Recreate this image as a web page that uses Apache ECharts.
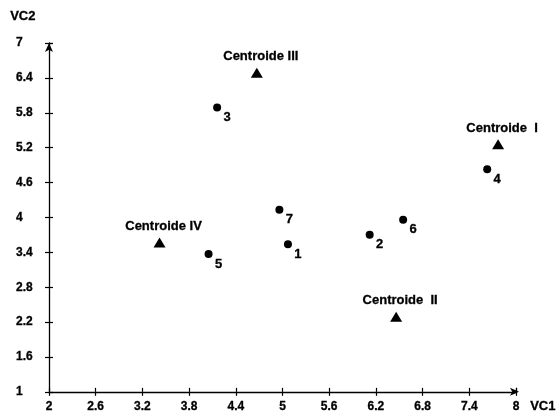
<!DOCTYPE html>
<html>
<head>
<meta charset="utf-8">
<script src="https://cdn.jsdelivr.net/npm/echarts@6/dist/echarts.min.js"></script>
<style>
html,body{margin:0;padding:0;background:#fff;}
#chart{width:558px;height:413px;}
</style>
</head>
<body>
<div id="chart"></div>
<script>
// ---- data ----
const xTickLabels = ['2','2.6','3.2','3.8','4.4','5','5.6','6.2','6.8','7.4','8'];
const yTickLabels = ['1','1.6','2.2','2.8','3.4','4','4.6','5.2','5.8','6.4','7'];
const pointNames = ['1','2','3','4','5','6','7'];
const pointX = [5.07, 6.12, 4.16, 7.63, 4.05, 6.55, 4.96];
const pointY = [3.54, 3.70, 5.89, 4.83, 3.37, 3.96, 4.13];
const centroidNames = ['Centroide  I','Centroide  II','Centroide III','Centroide IV'];
const centroidX = [7.77, 6.46, 4.67, 3.42];
const centroidY = [5.26, 2.29, 6.49, 3.57];
const xAxisName = 'VC1';
const yAxisName = 'VC2';

// ---- chart ----
const FONT = '"Liberation Sans", Arial, sans-serif';
const xMin = +xTickLabels[0], xMax = +xTickLabels[xTickLabels.length-1];
const xStep = +xTickLabels[1] - xMin;
const yMin = +yTickLabels[0], yMax = +yTickLabels[yTickLabels.length-1];
const yStep = +yTickLabels[1] - yMin;
const fmt = v => String(Math.round(v*10)/10);
const lbl = {fontFamily: FONT, fontWeight: 'bold', fontSize: 12, color: '#000',
             textBorderColor: '#000', textBorderWidth: 0.3};

const chart = echarts.init(document.getElementById('chart'), null, {renderer: 'canvas'});
chart.setOption({
  animation: false,
  backgroundColor: '#fff',
  grid: {left: 49, right: 42, top: 43, bottom: 21, containLabel: false},
  xAxis: [
    {type: 'value', min: xMin, max: xMax, interval: xStep, position: 'bottom',
     axisLine: {show: true, symbol: ['none','arrow'], symbolSize: [6, 9], symbolOffset: [0, 3],
                lineStyle: {color: '#000', width: 1.3}},
     axisTick: {show: true, length: 4, lineStyle: {color: '#000', width: 1.2}},
     splitLine: {show: false},
     axisLabel: Object.assign({margin: 9, formatter: fmt}, lbl)},
    {type: 'value', min: xMin, max: xMax, interval: xStep, position: 'bottom', offset: 0,
     axisLine: {show: false},
     axisTick: {show: true, inside: true, length: 4, lineStyle: {color: '#000', width: 1.2}},
     splitLine: {show: false}, axisLabel: {show: false}}
  ],
  yAxis: [
    {type: 'value', min: yMin, max: yMax, interval: yStep, position: 'left',
     axisLine: {show: true, symbol: ['none','arrow'], symbolSize: [6, 9], symbolOffset: [0, 0],
                lineStyle: {color: '#000', width: 1.3}},
     axisTick: {show: true, length: 4, lineStyle: {color: '#000', width: 1.2}},
     splitLine: {show: false},
     axisLabel: Object.assign({margin: 33, align: 'left', formatter: fmt}, lbl)},
    {type: 'value', min: yMin, max: yMax, interval: yStep, position: 'left', offset: 0,
     axisLine: {show: false},
     axisTick: {show: true, inside: true, length: 4, lineStyle: {color: '#000', width: 1.2}},
     splitLine: {show: false}, axisLabel: {show: false}}
  ],
  graphic: [
    {type: 'text', left: 10, top: 10, style: {text: yAxisName, font: 'bold 13px ' + FONT, fill: '#000', stroke: '#000', lineWidth: 0.3}},
    {type: 'text', left: 530, top: 400, style: {text: xAxisName, font: 'bold 13px ' + FONT, fill: '#000', stroke: '#000', lineWidth: 0.3}}
  ],
  series: [
    {type: 'scatter', xAxisIndex: 0, yAxisIndex: 0, symbol: 'circle', symbolSize: 8,
     itemStyle: {color: '#000', opacity: 1},
     data: pointNames.map((n, i) => ({name: n, value: [pointX[i], pointY[i]]})),
     label: {show: true, position: 'inside', offset: [10, 10], formatter: p => p.name,
             fontFamily: FONT, fontWeight: 'bold', fontSize: 13, color: '#000',
             textBorderColor: '#000', textBorderWidth: 0.3}},
    {type: 'scatter', xAxisIndex: 0, yAxisIndex: 0, symbol: 'triangle', symbolSize: [12, 10],
     itemStyle: {color: '#000', opacity: 1},
     data: centroidNames.map((n, i) => ({name: n, value: [centroidX[i], centroidY[i]]})),
     label: {show: true, position: 'inside', offset: [4, -16], formatter: p => p.name,
             fontFamily: FONT, fontWeight: 'bold', fontSize: 13, color: '#000',
             textBorderColor: '#000', textBorderWidth: 0.3}}
  ]
});
</script>
</body>
</html>
